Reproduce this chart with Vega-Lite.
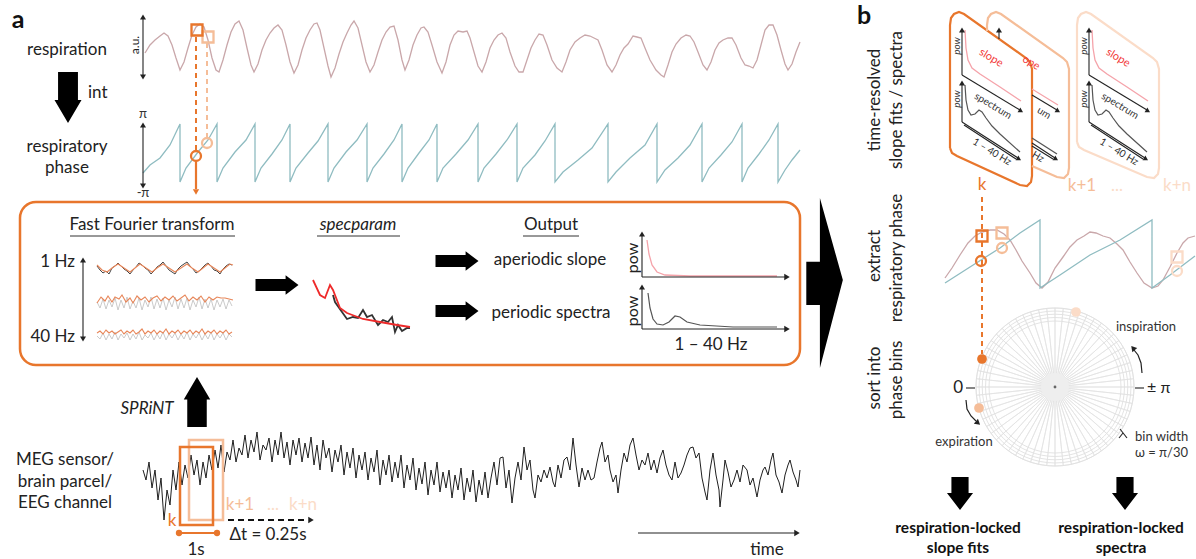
{
"$schema":"https://vega.github.io/schema/vega-lite/v6.json",
"width":1196,"height":559,"padding":0,"autosize":{"type":"none"},
"background":"white",
"config":{"view":{"stroke":null},"text":{"font":"Lato"}},
"encoding":{
 "x":{"field":"x","type":"quantitative","scale":{"domain":[0,1196],"nice":false,"zero":false},"axis":null},
 "y":{"field":"y","type":"quantitative","scale":{"domain":[0,559],"nice":false,"zero":false,"reverse":true},"axis":null}
},
"layer":[
{"data":{"values":[{"x":20,"y":202,"x2":800,"y2":365}]},
 "mark":{"type":"rect","cornerRadius":16,"filled":false,"stroke":"#E8762C","strokeWidth":2.5,"fill":null},
 "encoding":{"x2":{"field":"x2"},"y2":{"field":"y2"}}},
{"data":{"values":[
{"x":1055,"y":387,"v":1},{"x":1055,"y":387,"v":1},{"x":1055,"y":387,"v":1},{"x":1055,"y":387,"v":1},{"x":1055,"y":387,"v":1},{"x":1055,"y":387,"v":1},{"x":1055,"y":387,"v":1},{"x":1055,"y":387,"v":1},{"x":1055,"y":387,"v":1},{"x":1055,"y":387,"v":1},
{"x":1055,"y":387,"v":1},{"x":1055,"y":387,"v":1},{"x":1055,"y":387,"v":1},{"x":1055,"y":387,"v":1},{"x":1055,"y":387,"v":1},{"x":1055,"y":387,"v":1},{"x":1055,"y":387,"v":1},{"x":1055,"y":387,"v":1},{"x":1055,"y":387,"v":1},{"x":1055,"y":387,"v":1},
{"x":1055,"y":387,"v":1},{"x":1055,"y":387,"v":1},{"x":1055,"y":387,"v":1},{"x":1055,"y":387,"v":1},{"x":1055,"y":387,"v":1},{"x":1055,"y":387,"v":1},{"x":1055,"y":387,"v":1},{"x":1055,"y":387,"v":1},{"x":1055,"y":387,"v":1},{"x":1055,"y":387,"v":1},
{"x":1055,"y":387,"v":1},{"x":1055,"y":387,"v":1},{"x":1055,"y":387,"v":1},{"x":1055,"y":387,"v":1},{"x":1055,"y":387,"v":1},{"x":1055,"y":387,"v":1},{"x":1055,"y":387,"v":1},{"x":1055,"y":387,"v":1},{"x":1055,"y":387,"v":1},{"x":1055,"y":387,"v":1},
{"x":1055,"y":387,"v":1},{"x":1055,"y":387,"v":1},{"x":1055,"y":387,"v":1},{"x":1055,"y":387,"v":1},{"x":1055,"y":387,"v":1},{"x":1055,"y":387,"v":1},{"x":1055,"y":387,"v":1},{"x":1055,"y":387,"v":1},{"x":1055,"y":387,"v":1},{"x":1055,"y":387,"v":1},
{"x":1055,"y":387,"v":1},{"x":1055,"y":387,"v":1},{"x":1055,"y":387,"v":1},{"x":1055,"y":387,"v":1},{"x":1055,"y":387,"v":1},{"x":1055,"y":387,"v":1},{"x":1055,"y":387,"v":1},{"x":1055,"y":387,"v":1},{"x":1055,"y":387,"v":1},{"x":1055,"y":387,"v":1}]},
 "mark":{"type":"arc","outerRadius":79,"innerRadius":0,"fillOpacity":0,"stroke":"#e3e3e3","strokeWidth":0.8},
 "encoding":{"theta":{"field":"v","type":"quantitative","stack":true}}},
{"data":{"values":[{"x":1055,"y":387,"ring":1},{"x":1055,"y":387,"ring":2},{"x":1055,"y":387,"ring":3},{"x":1055,"y":387,"ring":4},{"x":1055,"y":387,"ring":5}]},
 "mark":{"type":"point","shape":"circle","filled":false,"stroke":"#e0e0e0","strokeWidth":0.9,"opacity":1},
 "encoding":{"size":{"field":"ring","type":"ordinal","scale":{"domain":[1,2,3,4,5],"range":[24964,17424,11236,6400,2916]},"legend":null}}},
{"data":{"values":[{"x":1055,"y":387}]},
 "mark":{"type":"point","shape":"circle","filled":true,"color":"#eeeeee","size":784,"opacity":1}},
{"data":{"values":[{"x":1055,"y":387}]},
 "mark":{"type":"point","shape":"circle","filled":true,"color":"#666666","size":8,"opacity":1}},
{"data":{"values":[
{"g":"c1","lvl":"k","x":950,"y":148},{"g":"c1","lvl":"k","x":950,"y":25},{"g":"c1","lvl":"k","x":951,"y":18},{"g":"c1","lvl":"k","x":954,"y":14},{"g":"c1","lvl":"k","x":959,"y":12},{"g":"c1","lvl":"k","x":964,"y":14},{"g":"c1","lvl":"k","x":1026,"y":58},{"g":"c1","lvl":"k","x":1030,"y":62},{"g":"c1","lvl":"k","x":1032,"y":69},{"g":"c1","lvl":"k","x":1032,"y":176},{"g":"c1","lvl":"k","x":1031,"y":182},{"g":"c1","lvl":"k","x":1027,"y":186},{"g":"c1","lvl":"k","x":1020,"y":185},{"g":"c1","lvl":"k","x":957,"y":156},{"g":"c1","lvl":"k","x":952,"y":153},{"g":"c1","lvl":"k","x":950,"y":148},
{"g":"c2","lvl":"k1","x":987,"y":31},{"g":"c2","lvl":"k1","x":987,"y":25},{"g":"c2","lvl":"k1","x":988,"y":18},{"g":"c2","lvl":"k1","x":991,"y":14},{"g":"c2","lvl":"k1","x":996,"y":12},{"g":"c2","lvl":"k1","x":1001,"y":14},{"g":"c2","lvl":"k1","x":1063,"y":58},{"g":"c2","lvl":"k1","x":1067,"y":62},{"g":"c2","lvl":"k1","x":1069,"y":69},{"g":"c2","lvl":"k1","x":1069,"y":168},{"g":"c2","lvl":"k1","x":1068,"y":174},{"g":"c2","lvl":"k1","x":1064,"y":178},{"g":"c2","lvl":"k1","x":1057,"y":177},{"g":"c2","lvl":"k1","x":1032,"y":166},
{"g":"c3","lvl":"kn","x":1077,"y":142},{"g":"c3","lvl":"kn","x":1077,"y":25},{"g":"c3","lvl":"kn","x":1078,"y":18},{"g":"c3","lvl":"kn","x":1081,"y":14},{"g":"c3","lvl":"kn","x":1086,"y":12},{"g":"c3","lvl":"kn","x":1091,"y":14},{"g":"c3","lvl":"kn","x":1153,"y":58},{"g":"c3","lvl":"kn","x":1157,"y":62},{"g":"c3","lvl":"kn","x":1159,"y":69},{"g":"c3","lvl":"kn","x":1159,"y":168},{"g":"c3","lvl":"kn","x":1158,"y":174},{"g":"c3","lvl":"kn","x":1154,"y":178},{"g":"c3","lvl":"kn","x":1147,"y":177},{"g":"c3","lvl":"kn","x":1084,"y":150},{"g":"c3","lvl":"kn","x":1079,"y":147},{"g":"c3","lvl":"kn","x":1077,"y":142}]},
 "mark":{"type":"line","strokeWidth":2.2},
 "encoding":{"detail":{"field":"g"},"order":{"value":null},"color":{"field":"lvl","type":"nominal","scale":{"domain":["k","k1","kn"],"range":["#E8762C","#F5BD98","#FBDCC8"]},"legend":null}}},
{"data":{"values":[
{"g":"s1","x":965,"y":30},{"g":"s1","x":966,"y":48},{"g":"s1","x":968,"y":60},{"g":"s1","x":972,"y":68},{"g":"s1","x":980,"y":74},{"g":"s1","x":1000,"y":87},{"g":"s1","x":1021,"y":101},
{"g":"s3","x":1092,"y":30},{"g":"s3","x":1093,"y":48},{"g":"s3","x":1095,"y":60},{"g":"s3","x":1099,"y":68},{"g":"s3","x":1107,"y":74},{"g":"s3","x":1127,"y":87},{"g":"s3","x":1148,"y":101},
{"g":"s2","x":1032,"y":89},{"g":"s2","x":1058,"y":105},
{"g":"ap","x":647,"y":240},{"g":"ap","x":649,"y":254},{"g":"ap","x":652,"y":265},{"g":"ap","x":657,"y":272},{"g":"ap","x":665,"y":275},{"g":"ap","x":690,"y":276},{"g":"ap","x":777,"y":276}]},
 "mark":{"type":"line","color":"#f5a3aa","strokeWidth":1.3},
 "encoding":{"detail":{"field":"g"},"order":{"value":null}}},
{"data":{"values":[
{"g":"p1","x":965,"y":85},{"g":"p1","x":966,"y":100},{"g":"p1","x":968,"y":110},{"g":"p1","x":971,"y":115},{"g":"p1","x":975,"y":114},{"g":"p1","x":979,"y":110},{"g":"p1","x":982,"y":112},{"g":"p1","x":986,"y":118},{"g":"p1","x":992,"y":126},{"g":"p1","x":1000,"y":134},{"g":"p1","x":1020,"y":152},
{"g":"p3","x":1092,"y":85},{"g":"p3","x":1093,"y":100},{"g":"p3","x":1095,"y":110},{"g":"p3","x":1098,"y":115},{"g":"p3","x":1102,"y":114},{"g":"p3","x":1106,"y":110},{"g":"p3","x":1109,"y":112},{"g":"p3","x":1113,"y":118},{"g":"p3","x":1119,"y":126},{"g":"p3","x":1127,"y":134},{"g":"p3","x":1147,"y":152},
{"g":"p2","x":1032,"y":138},{"g":"p2","x":1057,"y":154},
{"g":"pp","x":648,"y":293},{"g":"pp","x":650,"y":308},{"g":"pp","x":653,"y":319},{"g":"pp","x":657,"y":324},{"g":"pp","x":663,"y":325},{"g":"pp","x":669,"y":322},{"g":"pp","x":675,"y":316},{"g":"pp","x":680,"y":317},{"g":"pp","x":687,"y":322},{"g":"pp","x":700,"y":325},{"g":"pp","x":733,"y":327},{"g":"pp","x":777,"y":327}]},
 "mark":{"type":"line","color":"#555555","strokeWidth":1.2},
 "encoding":{"detail":{"field":"g"},"order":{"value":null}}},
{"data":{"values":[
{"g":"ra","x":145,"y":53},{"g":"ra","x":150,"y":45},{"g":"ra","x":155,"y":40},{"g":"ra","x":160,"y":36},{"g":"ra","x":164,"y":33},{"g":"ra","x":168,"y":36},{"g":"ra","x":172,"y":45},{"g":"ra","x":176,"y":58},{"g":"ra","x":180,"y":70},{"g":"ra","x":184,"y":62},{"g":"ra","x":188,"y":48},{"g":"ra","x":192,"y":35},{"g":"ra","x":196,"y":27},{"g":"ra","x":200,"y":24},{"g":"ra","x":204,"y":27},{"g":"ra","x":208,"y":40},{"g":"ra","x":212,"y":58},{"g":"ra","x":216,"y":70},{"g":"ra","x":219,"y":72},{"g":"ra","x":223,"y":60},{"g":"ra","x":227,"y":45},{"g":"ra","x":231,"y":32},{"g":"ra","x":235,"y":24},{"g":"ra","x":239,"y":21},{"g":"ra","x":243,"y":30},{"g":"ra","x":247,"y":48},{"g":"ra","x":251,"y":65},{"g":"ra","x":254,"y":72},{"g":"ra","x":258,"y":64},{"g":"ra","x":262,"y":50},{"g":"ra","x":266,"y":40},{"g":"ra","x":270,"y":33},{"g":"ra","x":274,"y":28},{"g":"ra","x":278,"y":25},{"g":"ra","x":282,"y":30},{"g":"ra","x":286,"y":45},{"g":"ra","x":290,"y":62},{"g":"ra","x":294,"y":73},{"g":"ra","x":298,"y":65},{"g":"ra","x":302,"y":50},{"g":"ra","x":306,"y":38},{"g":"ra","x":310,"y":30},{"g":"ra","x":314,"y":24},{"g":"ra","x":317,"y":23},{"g":"ra","x":320,"y":30},{"g":"ra","x":324,"y":48},{"g":"ra","x":328,"y":66},{"g":"ra","x":331,"y":77},{"g":"ra","x":335,"y":68},{"g":"ra","x":339,"y":54},{"g":"ra","x":343,"y":42},{"g":"ra","x":347,"y":33},{"g":"ra","x":351,"y":25},{"g":"ra","x":354,"y":21},{"g":"ra","x":358,"y":28},{"g":"ra","x":362,"y":45},{"g":"ra","x":366,"y":62},{"g":"ra","x":370,"y":72},{"g":"ra","x":374,"y":65},{"g":"ra","x":378,"y":52},{"g":"ra","x":382,"y":40},{"g":"ra","x":386,"y":32},{"g":"ra","x":390,"y":27},{"g":"ra","x":394,"y":26},{"g":"ra","x":398,"y":40},{"g":"ra","x":402,"y":60},{"g":"ra","x":405,"y":70},{"g":"ra","x":409,"y":60},{"g":"ra","x":413,"y":45},{"g":"ra","x":417,"y":35},{"g":"ra","x":421,"y":28},{"g":"ra","x":424,"y":27},{"g":"ra","x":428,"y":32},{"g":"ra","x":432,"y":45},{"g":"ra","x":437,"y":62},{"g":"ra","x":442,"y":73},{"g":"ra","x":446,"y":62},{"g":"ra","x":450,"y":45},{"g":"ra","x":454,"y":35},{"g":"ra","x":458,"y":31},{"g":"ra","x":463,"y":32},{"g":"ra","x":467,"y":31},{"g":"ra","x":470,"y":38},{"g":"ra","x":474,"y":52},{"g":"ra","x":478,"y":66},{"g":"ra","x":482,"y":72},{"g":"ra","x":486,"y":62},{"g":"ra","x":490,"y":48},{"g":"ra","x":494,"y":40},{"g":"ra","x":498,"y":35},{"g":"ra","x":502,"y":33},{"g":"ra","x":506,"y":38},{"g":"ra","x":510,"y":52},{"g":"ra","x":515,"y":66},{"g":"ra","x":519,"y":72},{"g":"ra","x":523,"y":72},{"g":"ra","x":527,"y":60},{"g":"ra","x":531,"y":48},{"g":"ra","x":535,"y":40},{"g":"ra","x":539,"y":34},{"g":"ra","x":543,"y":35},{"g":"ra","x":547,"y":45},{"g":"ra","x":552,"y":60},{"g":"ra","x":557,"y":68},{"g":"ra","x":562,"y":72},{"g":"ra","x":566,"y":62},{"g":"ra","x":570,"y":50},{"g":"ra","x":575,"y":42},{"g":"ra","x":580,"y":38},{"g":"ra","x":585,"y":35},{"g":"ra","x":590,"y":36},{"g":"ra","x":594,"y":38},{"g":"ra","x":598,"y":40},{"g":"ra","x":602,"y":50},{"g":"ra","x":607,"y":65},{"g":"ra","x":612,"y":72},{"g":"ra","x":616,"y":65},{"g":"ra","x":620,"y":55},{"g":"ra","x":624,"y":48},{"g":"ra","x":628,"y":44},{"g":"ra","x":633,"y":36},{"g":"ra","x":637,"y":37},{"g":"ra","x":641,"y":38},{"g":"ra","x":645,"y":48},{"g":"ra","x":650,"y":60},{"g":"ra","x":656,"y":70},{"g":"ra","x":661,"y":75},{"g":"ra","x":664,"y":77},{"g":"ra","x":668,"y":65},{"g":"ra","x":672,"y":52},{"g":"ra","x":676,"y":44},{"g":"ra","x":681,"y":38},{"g":"ra","x":686,"y":35},{"g":"ra","x":690,"y":36},{"g":"ra","x":694,"y":42},{"g":"ra","x":698,"y":52},{"g":"ra","x":703,"y":65},{"g":"ra","x":707,"y":70},{"g":"ra","x":711,"y":62},{"g":"ra","x":715,"y":50},{"g":"ra","x":719,"y":43},{"g":"ra","x":723,"y":40},{"g":"ra","x":728,"y":38},{"g":"ra","x":732,"y":38},{"g":"ra","x":736,"y":45},{"g":"ra","x":741,"y":58},{"g":"ra","x":745,"y":65},{"g":"ra","x":749,"y":66},{"g":"ra","x":753,"y":68},{"g":"ra","x":757,"y":60},{"g":"ra","x":761,"y":45},{"g":"ra","x":765,"y":30},{"g":"ra","x":769,"y":25},{"g":"ra","x":773,"y":25},{"g":"ra","x":777,"y":35},{"g":"ra","x":781,"y":50},{"g":"ra","x":785,"y":64},{"g":"ra","x":788,"y":70},{"g":"ra","x":792,"y":64},{"g":"ra","x":796,"y":52},{"g":"ra","x":800,"y":42},
{"g":"rb","x":945,"y":278},{"g":"rb","x":952,"y":268},{"g":"rb","x":960,"y":255},{"g":"rb","x":968,"y":243},{"g":"rb","x":975,"y":236},{"g":"rb","x":982,"y":232},{"g":"rb","x":990,"y":230},{"g":"rb","x":997,"y":230},{"g":"rb","x":1004,"y":234},{"g":"rb","x":1010,"y":240},{"g":"rb","x":1016,"y":250},{"g":"rb","x":1022,"y":261},{"g":"rb","x":1030,"y":273},{"g":"rb","x":1036,"y":283},{"g":"rb","x":1042,"y":288},{"g":"rb","x":1048,"y":282},{"g":"rb","x":1055,"y":268},{"g":"rb","x":1063,"y":257},{"g":"rb","x":1070,"y":247},{"g":"rb","x":1077,"y":240},{"g":"rb","x":1084,"y":236},{"g":"rb","x":1090,"y":232},{"g":"rb","x":1096,"y":233},{"g":"rb","x":1103,"y":236},{"g":"rb","x":1110,"y":238},{"g":"rb","x":1117,"y":244},{"g":"rb","x":1123,"y":250},{"g":"rb","x":1130,"y":262},{"g":"rb","x":1137,"y":273},{"g":"rb","x":1144,"y":283},{"g":"rb","x":1152,"y":288},{"g":"rb","x":1158,"y":286},{"g":"rb","x":1163,"y":280},{"g":"rb","x":1170,"y":267},{"g":"rb","x":1177,"y":253},{"g":"rb","x":1183,"y":243},{"g":"rb","x":1188,"y":238},{"g":"rb","x":1195,"y":236}]},
 "mark":{"type":"line","color":"#c9a7aa","strokeWidth":1.3},
 "encoding":{"detail":{"field":"g"},"order":{"value":null}}},
{"data":{"values":[
{"g":"pa","x":143,"y":173},{"g":"pa","x":150,"y":165},{"g":"pa","x":160,"y":158},{"g":"pa","x":170,"y":145},{"g":"pa","x":180,"y":124},{"g":"pa","x":180,"y":182},
{"g":"pa","x":186,"y":168},{"g":"pa","x":198,"y":152},{"g":"pa","x":208,"y":140},{"g":"pa","x":217,"y":124},{"g":"pa","x":217,"y":182},
{"g":"pa","x":223,"y":168},{"g":"pa","x":235,"y":152},{"g":"pa","x":246,"y":140},{"g":"pa","x":255,"y":124},{"g":"pa","x":255,"y":182},
{"g":"pa","x":261,"y":168},{"g":"pa","x":272,"y":154},{"g":"pa","x":282,"y":140},{"g":"pa","x":290,"y":124},{"g":"pa","x":290,"y":182},
{"g":"pa","x":296,"y":168},{"g":"pa","x":308,"y":153},{"g":"pa","x":318,"y":141},{"g":"pa","x":328,"y":124},{"g":"pa","x":328,"y":182},
{"g":"pa","x":334,"y":168},{"g":"pa","x":346,"y":152},{"g":"pa","x":357,"y":140},{"g":"pa","x":367,"y":124},{"g":"pa","x":367,"y":182},
{"g":"pa","x":373,"y":168},{"g":"pa","x":384,"y":154},{"g":"pa","x":394,"y":140},{"g":"pa","x":402,"y":124},{"g":"pa","x":402,"y":182},
{"g":"pa","x":408,"y":168},{"g":"pa","x":419,"y":153},{"g":"pa","x":429,"y":140},{"g":"pa","x":437,"y":124},{"g":"pa","x":437,"y":182},
{"g":"pa","x":443,"y":168},{"g":"pa","x":456,"y":154},{"g":"pa","x":468,"y":140},{"g":"pa","x":478,"y":124},{"g":"pa","x":478,"y":182},
{"g":"pa","x":484,"y":168},{"g":"pa","x":496,"y":154},{"g":"pa","x":507,"y":140},{"g":"pa","x":517,"y":124},{"g":"pa","x":517,"y":182},
{"g":"pa","x":523,"y":168},{"g":"pa","x":535,"y":155},{"g":"pa","x":545,"y":141},{"g":"pa","x":555,"y":124},{"g":"pa","x":555,"y":182},
{"g":"pa","x":563,"y":172},{"g":"pa","x":578,"y":160},{"g":"pa","x":592,"y":148},{"g":"pa","x":608,"y":124},{"g":"pa","x":608,"y":182},
{"g":"pa","x":616,"y":172},{"g":"pa","x":630,"y":158},{"g":"pa","x":645,"y":145},{"g":"pa","x":657,"y":124},{"g":"pa","x":657,"y":182},
{"g":"pa","x":665,"y":170},{"g":"pa","x":678,"y":158},{"g":"pa","x":690,"y":145},{"g":"pa","x":702,"y":124},{"g":"pa","x":702,"y":182},
{"g":"pa","x":709,"y":168},{"g":"pa","x":721,"y":155},{"g":"pa","x":732,"y":142},{"g":"pa","x":742,"y":124},{"g":"pa","x":742,"y":182},
{"g":"pa","x":748,"y":168},{"g":"pa","x":759,"y":154},{"g":"pa","x":769,"y":140},{"g":"pa","x":778,"y":124},{"g":"pa","x":778,"y":182},
{"g":"pa","x":785,"y":170},{"g":"pa","x":792,"y":160},{"g":"pa","x":800,"y":150},
{"g":"pb","x":945,"y":283},{"g":"pb","x":970,"y":267},{"g":"pb","x":1000,"y":248},{"g":"pb","x":1020,"y":233},{"g":"pb","x":1040,"y":220},{"g":"pb","x":1040,"y":288},{"g":"pb","x":1060,"y":275},{"g":"pb","x":1090,"y":255},{"g":"pb","x":1120,"y":240},{"g":"pb","x":1152,"y":220},{"g":"pb","x":1152,"y":288},{"g":"pb","x":1170,"y":275},{"g":"pb","x":1195,"y":256}]},
 "mark":{"type":"line","color":"#8fbcc1","strokeWidth":1.3},
 "encoding":{"detail":{"field":"g"},"order":{"value":null}}},
{"data":{"values":[
{"x":143,"y":470},{"x":146,"y":480},{"x":149,"y":462},{"x":152,"y":488},{"x":155,"y":470},{"x":158,"y":500},{"x":161,"y":478},{"x":164,"y":520},{"x":167,"y":490},{"x":170,"y":505},{"x":173,"y":470},{"x":176,"y":490},{"x":179,"y":462},{"x":182,"y":485},{"x":185,"y":465},{"x":188,"y":478},{"x":191,"y":455},{"x":194,"y":475},{"x":197,"y":460},{"x":200,"y":485},{"x":203,"y":462},{"x":206,"y":478},{"x":209,"y":455},{"x":212,"y":470},{"x":215,"y":450},{"x":218,"y":468},{"x":221,"y":445},{"x":224,"y":472},{"x":227,"y":452},{"x":230,"y":460},{"x":233,"y":440},{"x":236,"y":462},{"x":239,"y":448},{"x":242,"y":455},{"x":245,"y":435},{"x":248,"y":458},{"x":251,"y":440},{"x":254,"y":452},{"x":257,"y":432},{"x":260,"y":460},{"x":263,"y":445},{"x":266,"y":450},{"x":269,"y":438},{"x":272,"y":462},{"x":275,"y":440},{"x":278,"y":455},{"x":281,"y":432},{"x":284,"y":458},{"x":287,"y":442},{"x":290,"y":465},{"x":293,"y":440},{"x":296,"y":455},{"x":299,"y":438},{"x":302,"y":462},{"x":305,"y":443},{"x":308,"y":458},{"x":311,"y":437},{"x":314,"y":465},{"x":317,"y":445},{"x":320,"y":470},{"x":323,"y":440},{"x":326,"y":458},{"x":329,"y":448},{"x":332,"y":472},{"x":335,"y":450},{"x":338,"y":462},{"x":341,"y":445},{"x":344,"y":475},{"x":347,"y":452},{"x":350,"y":468},{"x":353,"y":448},{"x":356,"y":478},{"x":359,"y":455},{"x":362,"y":470},{"x":365,"y":452},{"x":368,"y":480},{"x":371,"y":458},{"x":374,"y":472},{"x":377,"y":450},{"x":380,"y":485},{"x":383,"y":460},{"x":386,"y":475},{"x":389,"y":455},{"x":392,"y":482},{"x":395,"y":462},{"x":398,"y":478},{"x":401,"y":455},{"x":404,"y":488},{"x":407,"y":465},{"x":410,"y":480},{"x":413,"y":458},{"x":416,"y":490},{"x":419,"y":468},{"x":422,"y":484},{"x":425,"y":462},{"x":428,"y":495},{"x":431,"y":470},{"x":434,"y":485},{"x":437,"y":462},{"x":440,"y":492},{"x":443,"y":472},{"x":446,"y":488},{"x":449,"y":470},{"x":452,"y":498},{"x":455,"y":475},{"x":458,"y":490},{"x":461,"y":468},{"x":464,"y":500},{"x":467,"y":478},{"x":470,"y":492},{"x":473,"y":470},{"x":476,"y":502},{"x":479,"y":480},{"x":482,"y":495},{"x":485,"y":472},{"x":488,"y":498},{"x":491,"y":478},
{"x":494,"y":462},{"x":497,"y":485},{"x":500,"y":458},{"x":503,"y":457},{"x":506,"y":488},{"x":509,"y":470},{"x":512,"y":503},{"x":515,"y":478},{"x":518,"y":462},{"x":521,"y":480},{"x":524,"y":447},{"x":527,"y":470},{"x":530,"y":460},{"x":533,"y":490},{"x":535,"y":498},{"x":538,"y":475},{"x":541,"y":482},{"x":544,"y":470},{"x":547,"y":478},{"x":550,"y":467},{"x":553,"y":482},{"x":555,"y":487},{"x":558,"y":465},{"x":561,"y":478},{"x":564,"y":460},{"x":567,"y":457},{"x":570,"y":470},{"x":573,"y":438},{"x":576,"y":465},{"x":579,"y":487},{"x":582,"y":468},{"x":585,"y":480},{"x":588,"y":470},{"x":591,"y":480},{"x":594,"y":478},{"x":597,"y":462},{"x":600,"y":448},{"x":602,"y":442},{"x":605,"y":462},{"x":608,"y":455},{"x":610,"y":470},{"x":613,"y":482},{"x":616,"y":475},{"x":618,"y":493},{"x":621,"y":470},{"x":624,"y":453},{"x":627,"y":462},{"x":630,"y":445},{"x":633,"y":438},{"x":636,"y":455},{"x":639,"y":470},{"x":642,"y":460},{"x":645,"y":465},{"x":648,"y":453},{"x":651,"y":470},{"x":654,"y":460},{"x":657,"y":473},{"x":660,"y":458},{"x":663,"y":450},{"x":666,"y":465},{"x":669,"y":475},{"x":672,"y":480},{"x":675,"y":462},{"x":678,"y":478},{"x":681,"y":473},{"x":684,"y":465},{"x":687,"y":455},{"x":690,"y":448},{"x":693,"y":447},{"x":696,"y":458},{"x":699,"y":453},{"x":702,"y":478},{"x":705,"y":492},{"x":707,"y":500},{"x":710,"y":470},{"x":713,"y":453},{"x":716,"y":475},{"x":719,"y":490},{"x":720,"y":507},{"x":723,"y":480},{"x":725,"y":460},{"x":728,"y":472},{"x":731,"y":487},{"x":734,"y":480},{"x":737,"y":470},{"x":740,"y":482},{"x":743,"y":465},{"x":747,"y":470},{"x":750,"y":485},{"x":753,"y":478},{"x":757,"y":497},{"x":760,"y":480},{"x":763,"y":470},{"x":765,"y":467},{"x":768,"y":475},{"x":771,"y":460},{"x":773,"y":453},{"x":776,"y":475},{"x":779,"y":482},{"x":782,"y":493},{"x":785,"y":475},{"x":788,"y":465},{"x":790,"y":460},{"x":793,"y":472},{"x":796,"y":480},{"x":798,"y":487},{"x":800,"y":470}]},
 "mark":{"type":"line","color":"#1f1f1f","strokeWidth":1},
 "encoding":{"order":{"value":null}}},
{"data":{"values":[
{"g":"f2g","x":97,"y":302},{"g":"f2g","x":100,"y":308},{"g":"f2g","x":103,"y":299},{"g":"f2g","x":106,"y":309},{"g":"f2g","x":109,"y":300},{"g":"f2g","x":112,"y":307},{"g":"f2g","x":115,"y":298},{"g":"f2g","x":118,"y":310},{"g":"f2g","x":121,"y":300},{"g":"f2g","x":124,"y":308},{"g":"f2g","x":127,"y":297},{"g":"f2g","x":130,"y":309},{"g":"f2g","x":133,"y":301},{"g":"f2g","x":136,"y":308},{"g":"f2g","x":139,"y":298},{"g":"f2g","x":142,"y":310},{"g":"f2g","x":145,"y":300},{"g":"f2g","x":148,"y":307},{"g":"f2g","x":151,"y":297},{"g":"f2g","x":154,"y":309},{"g":"f2g","x":157,"y":299},{"g":"f2g","x":160,"y":308},{"g":"f2g","x":163,"y":298},{"g":"f2g","x":166,"y":310},{"g":"f2g","x":169,"y":300},{"g":"f2g","x":172,"y":307},{"g":"f2g","x":175,"y":297},{"g":"f2g","x":178,"y":309},{"g":"f2g","x":181,"y":299},{"g":"f2g","x":184,"y":308},{"g":"f2g","x":187,"y":298},{"g":"f2g","x":190,"y":310},{"g":"f2g","x":193,"y":300},{"g":"f2g","x":196,"y":307},{"g":"f2g","x":199,"y":297},{"g":"f2g","x":202,"y":309},{"g":"f2g","x":205,"y":299},{"g":"f2g","x":208,"y":308},{"g":"f2g","x":211,"y":299},{"g":"f2g","x":214,"y":310},{"g":"f2g","x":217,"y":300},{"g":"f2g","x":220,"y":307},{"g":"f2g","x":223,"y":299},{"g":"f2g","x":226,"y":309},{"g":"f2g","x":229,"y":300},{"g":"f2g","x":232,"y":306},
{"g":"f3g","x":97,"y":336},{"g":"f3g","x":100,"y":339},{"g":"f3g","x":103,"y":333},{"g":"f3g","x":106,"y":340},{"g":"f3g","x":109,"y":334},{"g":"f3g","x":112,"y":339},{"g":"f3g","x":115,"y":332},{"g":"f3g","x":118,"y":340},{"g":"f3g","x":121,"y":334},{"g":"f3g","x":124,"y":338},{"g":"f3g","x":127,"y":333},{"g":"f3g","x":130,"y":340},{"g":"f3g","x":133,"y":334},{"g":"f3g","x":136,"y":339},{"g":"f3g","x":139,"y":332},{"g":"f3g","x":142,"y":340},{"g":"f3g","x":145,"y":335},{"g":"f3g","x":148,"y":338},{"g":"f3g","x":151,"y":333},{"g":"f3g","x":154,"y":340},{"g":"f3g","x":157,"y":334},{"g":"f3g","x":160,"y":339},{"g":"f3g","x":163,"y":332},{"g":"f3g","x":166,"y":340},{"g":"f3g","x":169,"y":334},{"g":"f3g","x":172,"y":338},{"g":"f3g","x":175,"y":333},{"g":"f3g","x":178,"y":340},{"g":"f3g","x":181,"y":334},{"g":"f3g","x":184,"y":339},{"g":"f3g","x":187,"y":332},{"g":"f3g","x":190,"y":340},{"g":"f3g","x":193,"y":334},{"g":"f3g","x":196,"y":338},{"g":"f3g","x":199,"y":333},{"g":"f3g","x":202,"y":340},{"g":"f3g","x":205,"y":334},{"g":"f3g","x":208,"y":339},{"g":"f3g","x":211,"y":332},{"g":"f3g","x":214,"y":340},{"g":"f3g","x":217,"y":334},{"g":"f3g","x":220,"y":338},{"g":"f3g","x":223,"y":333},{"g":"f3g","x":226,"y":340},{"g":"f3g","x":229,"y":334},{"g":"f3g","x":232,"y":337}]},
 "mark":{"type":"line","color":"#c4c4c4","strokeWidth":0.9},
 "encoding":{"detail":{"field":"g"},"order":{"value":null}}},
{"data":{"values":[
{"x":97,"y":266},{"x":100,"y":270},{"x":103,"y":273},{"x":106,"y":271},{"x":109,"y":274},{"x":112,"y":268},{"x":115,"y":266},{"x":118,"y":263},{"x":121,"y":266},{"x":124,"y":269},{"x":127,"y":271},{"x":130,"y":274},{"x":133,"y":270},{"x":136,"y":267},{"x":139,"y":263},{"x":142,"y":265},{"x":145,"y":268},{"x":148,"y":270},{"x":151,"y":274},{"x":154,"y":271},{"x":157,"y":267},{"x":160,"y":265},{"x":163,"y":262},{"x":166,"y":266},{"x":169,"y":270},{"x":172,"y":272},{"x":175,"y":274},{"x":178,"y":269},{"x":181,"y":266},{"x":184,"y":264},{"x":187,"y":262},{"x":190,"y":266},{"x":193,"y":269},{"x":196,"y":273},{"x":199,"y":271},{"x":202,"y":268},{"x":205,"y":265},{"x":208,"y":263},{"x":211,"y":266},{"x":214,"y":270},{"x":217,"y":271},{"x":220,"y":274},{"x":223,"y":269},{"x":226,"y":266},{"x":229,"y":264},{"x":232,"y":265}]},
 "mark":{"type":"line","color":"#444444","strokeWidth":1},
 "encoding":{"order":{"value":null}}},
{"data":{"values":[
{"g":"f1o","x":97,"y":265},{"g":"f1o","x":102,"y":270},{"g":"f1o","x":107,"y":272},{"g":"f1o","x":112,"y":268},{"g":"f1o","x":118,"y":264},{"g":"f1o","x":124,"y":268},{"g":"f1o","x":130,"y":272},{"g":"f1o","x":135,"y":268},{"g":"f1o","x":140,"y":264},{"g":"f1o","x":146,"y":268},{"g":"f1o","x":152,"y":272},{"g":"f1o","x":157,"y":268},{"g":"f1o","x":163,"y":264},{"g":"f1o","x":169,"y":268},{"g":"f1o","x":175,"y":272},{"g":"f1o","x":181,"y":268},{"g":"f1o","x":187,"y":264},{"g":"f1o","x":192,"y":268},{"g":"f1o","x":198,"y":272},{"g":"f1o","x":203,"y":268},{"g":"f1o","x":208,"y":264},{"g":"f1o","x":214,"y":268},{"g":"f1o","x":220,"y":272},{"g":"f1o","x":225,"y":268},{"g":"f1o","x":230,"y":264},{"g":"f1o","x":233,"y":265},
{"g":"f2o","x":97,"y":303},{"g":"f2o","x":101,"y":297},{"g":"f2o","x":105,"y":301},{"g":"f2o","x":108,"y":296},{"g":"f2o","x":112,"y":302},{"g":"f2o","x":115,"y":297},{"g":"f2o","x":119,"y":299},{"g":"f2o","x":122,"y":295},{"g":"f2o","x":126,"y":302},{"g":"f2o","x":130,"y":298},{"g":"f2o","x":133,"y":303},{"g":"f2o","x":137,"y":296},{"g":"f2o","x":141,"y":300},{"g":"f2o","x":145,"y":297},{"g":"f2o","x":149,"y":302},{"g":"f2o","x":153,"y":298},{"g":"f2o","x":157,"y":296},{"g":"f2o","x":161,"y":301},{"g":"f2o","x":165,"y":297},{"g":"f2o","x":169,"y":300},{"g":"f2o","x":173,"y":296},{"g":"f2o","x":177,"y":301},{"g":"f2o","x":181,"y":298},{"g":"f2o","x":185,"y":295},{"g":"f2o","x":189,"y":301},{"g":"f2o","x":193,"y":297},{"g":"f2o","x":197,"y":300},{"g":"f2o","x":201,"y":296},{"g":"f2o","x":205,"y":302},{"g":"f2o","x":209,"y":297},{"g":"f2o","x":213,"y":300},{"g":"f2o","x":217,"y":297},{"g":"f2o","x":221,"y":298},{"g":"f2o","x":225,"y":298},{"g":"f2o","x":229,"y":299},{"g":"f2o","x":233,"y":300},
{"g":"f3o","x":97,"y":333},{"g":"f3o","x":100,"y":331},{"g":"f3o","x":103,"y":334},{"g":"f3o","x":106,"y":330},{"g":"f3o","x":109,"y":333},{"g":"f3o","x":112,"y":331},{"g":"f3o","x":115,"y":334},{"g":"f3o","x":118,"y":332},{"g":"f3o","x":121,"y":330},{"g":"f3o","x":124,"y":334},{"g":"f3o","x":127,"y":331},{"g":"f3o","x":130,"y":333},{"g":"f3o","x":133,"y":330},{"g":"f3o","x":136,"y":334},{"g":"f3o","x":139,"y":332},{"g":"f3o","x":142,"y":329},{"g":"f3o","x":145,"y":334},{"g":"f3o","x":148,"y":331},{"g":"f3o","x":151,"y":333},{"g":"f3o","x":154,"y":330},{"g":"f3o","x":157,"y":334},{"g":"f3o","x":160,"y":331},{"g":"f3o","x":163,"y":333},{"g":"f3o","x":166,"y":329},{"g":"f3o","x":169,"y":334},{"g":"f3o","x":172,"y":331},{"g":"f3o","x":175,"y":333},{"g":"f3o","x":178,"y":330},{"g":"f3o","x":181,"y":334},{"g":"f3o","x":184,"y":331},{"g":"f3o","x":187,"y":333},{"g":"f3o","x":190,"y":330},{"g":"f3o","x":193,"y":334},{"g":"f3o","x":196,"y":331},{"g":"f3o","x":199,"y":333},{"g":"f3o","x":202,"y":329},{"g":"f3o","x":205,"y":334},{"g":"f3o","x":208,"y":331},{"g":"f3o","x":211,"y":333},{"g":"f3o","x":214,"y":330},{"g":"f3o","x":217,"y":334},{"g":"f3o","x":220,"y":331},{"g":"f3o","x":223,"y":333},{"g":"f3o","x":226,"y":330},{"g":"f3o","x":229,"y":334},{"g":"f3o","x":232,"y":332}]},
 "mark":{"type":"line","color":"#E8875A","strokeWidth":1.1},
 "encoding":{"detail":{"field":"g"},"order":{"value":null}}},
{"data":{"values":[
{"x":333,"y":295},{"x":335,"y":302},{"x":342,"y":312},{"x":347,"y":319},{"x":353,"y":317},{"x":358,"y":318},{"x":363,"y":310},{"x":367,"y":317},{"x":372,"y":315},{"x":378,"y":325},{"x":383,"y":320},{"x":388,"y":322},{"x":392,"y":317},{"x":395,"y":332},{"x":398,"y":325},{"x":402,"y":331},{"x":407,"y":328},{"x":410,"y":328}]},
 "mark":{"type":"line","color":"#333333","strokeWidth":1.8},
 "encoding":{"order":{"value":null}}},
{"data":{"values":[
{"x":313,"y":280},{"x":320,"y":295},{"x":325,"y":298},{"x":330,"y":285},{"x":333,"y":290},{"x":340,"y":308},{"x":347,"y":313},{"x":363,"y":319},{"x":380,"y":322},{"x":397,"y":325},{"x":410,"y":327}]},
 "mark":{"type":"line","color":"#ee2a2a","strokeWidth":1.8},
 "encoding":{"order":{"value":null}}},
{"data":{"values":[
{"g":"ai","x":1142,"y":373},{"g":"ai","x":1141,"y":363},{"g":"ai","x":1138,"y":355},{"g":"ai","x":1134,"y":350},
{"g":"ae","x":966,"y":400},{"g":"ae","x":967,"y":409},{"g":"ae","x":971,"y":416},{"g":"ae","x":976,"y":421}]},
 "mark":{"type":"line","color":"#222222","strokeWidth":1.2},
 "encoding":{"detail":{"field":"g"},"order":{"value":null}}},
{"data":{"values":[
{"x":143,"y":18,"x2":143,"y2":76},{"x":143,"y":126,"x2":143,"y2":185},{"x":83,"y":261,"x2":83,"y2":338},
{"x":642,"y":235,"x2":642,"y2":277},{"x":642,"y":277,"x2":785,"y2":277},{"x":642,"y":288,"x2":642,"y2":329},{"x":642,"y":329,"x2":785,"y2":329},{"x":638,"y":533,"x2":795,"y2":533},
{"x":962,"y":75,"x2":962,"y2":31},{"x":962,"y":75,"x2":1020,"y2":110},{"x":962,"y":122,"x2":962,"y2":84},{"x":962,"y":122,"x2":1018,"y2":158},{"x":964,"y":125,"x2":1016,"y2":159},
{"x":1089,"y":75,"x2":1089,"y2":31},{"x":1089,"y":75,"x2":1147,"y2":110},{"x":1089,"y":122,"x2":1089,"y2":84},{"x":1089,"y":122,"x2":1145,"y2":158},{"x":1091,"y":125,"x2":1143,"y2":159},
{"x":999,"y":39,"x2":999,"y2":31},{"x":1032,"y":95,"x2":1057,"y2":110},{"x":1032,"y":143,"x2":1055,"y2":158},{"x":1032,"y":146,"x2":1053,"y2":159},
{"x":966,"y":388,"x2":975,"y2":388},{"x":1135,"y":388,"x2":1144,"y2":388},
{"x":1120,"y":429,"x2":1127,"y2":438},{"x":1123,"y":433,"x2":1119,"y2":438}]},
 "mark":{"type":"rule","color":"#222222","strokeWidth":1.1},
 "encoding":{"x2":{"field":"x2"},"y2":{"field":"y2"}}},
{"data":{"values":[{"x":70,"y":236,"x2":235,"y2":236},{"x":317,"y":236,"x2":400,"y2":236},{"x":523,"y":236,"x2":579,"y2":236}]},
 "mark":{"type":"rule","color":"#333333","strokeWidth":1},
 "encoding":{"x2":{"field":"x2"},"y2":{"field":"y2"}}},
{"data":{"values":[{"x":228,"y":520,"x2":307,"y2":520}]},
 "mark":{"type":"rule","color":"#111111","strokeWidth":2,"strokeDash":[6,4]},
 "encoding":{"x2":{"field":"x2"},"y2":{"field":"y2"}}},
{"data":{"values":[{"x":207,"y":43,"x2":207,"y2":137,"lvl":"k1"},{"x":196,"y":37,"x2":196,"y2":150,"lvl":"k"},{"x":982,"y":197,"x2":982,"y2":354,"lvl":"k"}]},
 "mark":{"type":"rule","strokeWidth":2,"strokeDash":[5,4]},
 "encoding":{"x2":{"field":"x2"},"y2":{"field":"y2"},"color":{"field":"lvl","type":"nominal","scale":{"domain":["k","k1","kn"],"range":["#E8762C","#F5BD98","#FBDCC8"]},"legend":null}}},
{"data":{"values":[{"x":196,"y":162,"x2":196,"y2":189},{"x":179,"y":533,"x2":217,"y2":533}]},
 "mark":{"type":"rule","color":"#E8762C","strokeWidth":2.2},
 "encoding":{"x2":{"field":"x2"},"y2":{"field":"y2"}}},
{"data":{"values":[{"x":143,"y":17},{"x":143,"y":125},{"x":83,"y":260},{"x":642,"y":234},{"x":642,"y":287},{"x":962,"y":30},{"x":1089,"y":30},{"x":999,"y":30},{"x":962,"y":83},{"x":1089,"y":83}]},
 "mark":{"type":"point","shape":"triangle-up","filled":true,"color":"#222222","size":36,"opacity":1}},
{"data":{"values":[{"x":143,"y":77},{"x":143,"y":186},{"x":83,"y":339}]},
 "mark":{"type":"point","shape":"triangle-down","filled":true,"color":"#222222","size":36,"opacity":1}},
{"data":{"values":[{"x":787,"y":277},{"x":787,"y":329},{"x":797,"y":533},{"x":311,"y":520}]},
 "mark":{"type":"point","shape":"triangle-right","filled":true,"color":"#222222","size":40,"opacity":1}},
{"data":{"values":[{"x":1021,"y":111},{"x":1019,"y":159},{"x":1148,"y":111},{"x":1146,"y":159},{"x":1058,"y":111},{"x":1056,"y":159}]},
 "mark":{"type":"point","shape":"triangle-right","filled":true,"color":"#222222","size":30,"angle":31,"opacity":1}},
{"data":{"values":[{"x":1133,"y":348}]},
 "mark":{"type":"point","shape":"triangle-up","filled":true,"color":"#222222","size":40,"angle":320,"opacity":1}},
{"data":{"values":[{"x":978,"y":423}]},
 "mark":{"type":"point","shape":"triangle-down","filled":true,"color":"#222222","size":40,"angle":310,"opacity":1}},
{"data":{"values":[{"x":196,"y":192}]},
 "mark":{"type":"point","shape":"triangle-down","filled":true,"color":"#E8762C","size":40,"opacity":1}},
{"data":{"values":[{"x":189,"y":440,"x2":223,"y2":520,"lvl":"k1"},{"x":180,"y":447,"x2":213,"y2":525,"lvl":"k"}]},
 "mark":{"type":"rect","filled":false,"strokeWidth":2.5},
 "encoding":{"x2":{"field":"x2"},"y2":{"field":"y2"},"color":{"field":"lvl","type":"nominal","scale":{"domain":["k","k1","kn"],"range":["#E8762C","#F5BD98","#FBDCC8"]},"legend":null}}},
{"data":{"values":[{"x":208,"y":37,"lvl":"k1"},{"x":197,"y":30,"lvl":"k"},{"x":1177,"y":257,"lvl":"kn"},{"x":1002,"y":233,"lvl":"k1"},{"x":982,"y":236,"lvl":"k"}]},
 "mark":{"type":"point","shape":"square","filled":false,"strokeWidth":2.3,"size":121,"opacity":1},
 "encoding":{"color":{"field":"lvl","type":"nominal","scale":{"domain":["k","k1","kn"],"range":["#E8762C","#F5BD98","#FBDCC8"]},"legend":null}}},
{"data":{"values":[{"x":207,"y":143,"lvl":"k1"},{"x":196,"y":156,"lvl":"k"},{"x":1177,"y":271,"lvl":"kn"},{"x":1002,"y":248,"lvl":"k1"},{"x":981,"y":261,"lvl":"k"}]},
 "mark":{"type":"point","shape":"circle","filled":false,"strokeWidth":2.3,"size":100,"opacity":1},
 "encoding":{"color":{"field":"lvl","type":"nominal","scale":{"domain":["k","k1","kn"],"range":["#E8762C","#F5BD98","#FBDCC8"]},"legend":null}}},
{"data":{"values":[{"x":982,"y":359,"lvl":"k"},{"x":979,"y":408,"lvl":"k1"},{"x":1076,"y":312,"lvl":"kn"}]},
 "mark":{"type":"point","shape":"circle","filled":true,"size":95,"opacity":1},
 "encoding":{"color":{"field":"lvl","type":"nominal","scale":{"domain":["k","k1","kn"],"range":["#E8762C","#F5BD98","#FBDCC8"]},"legend":null}}},
{"data":{"values":[{"x":179,"y":533},{"x":217,"y":533}]},
 "mark":{"type":"point","shape":"circle","filled":true,"size":40,"color":"#E8762C","opacity":1}},
{"data":{"values":[{"x":68,"y":97.5}]},
 "mark":{"type":"point","shape":"M-0.39,-1 L0.39,-1 L0.39,0.1 L0.53,0.1 L0,1 L-0.53,0.1 L-0.39,0.1 Z","size":2601,"filled":true,"color":"#000000","opacity":1}},
{"data":{"values":[{"x":197,"y":402}]},
 "mark":{"type":"point","shape":"M-0.39,1 L0.39,1 L0.39,-0.1 L0.53,-0.1 L0,-1 L-0.53,-0.1 L-0.39,-0.1 Z","size":2500,"filled":true,"color":"#000000","opacity":1}},
{"data":{"values":[{"x":960,"y":493.5},{"x":1125,"y":493.5}]},
 "mark":{"type":"point","shape":"M-0.52,-1 L0.52,-1 L0.52,-0.03 L0.79,-0.03 L0,1 L-0.79,-0.03 L-0.52,-0.03 Z","size":1089,"filled":true,"color":"#000000","opacity":1}},
{"data":{"values":[{"x":277,"y":285},{"x":457,"y":261},{"x":457,"y":311}]},
 "mark":{"type":"point","shape":"M-1,-0.28 L0.4,-0.28 L0.4,-0.45 L1,0 L0.4,0.45 L0.4,0.28 L-1,0.28 Z","size":1849,"filled":true,"color":"#000000","opacity":1}},
{"data":{"values":[{"x":825,"y":283}]},
 "mark":{"type":"point","shape":"M-0.22,-0.25 L-0.06,-0.25 L-0.06,-1 L0.21,-0.035 L-0.06,1 L-0.06,0.26 L-0.22,0.26 Z","size":28900,"filled":true,"color":"#000000","opacity":1}},
{"data":{"values":[
{"x":67,"y":50,"t":"respiration"},{"x":67,"y":147,"t":"respiratory"},{"x":67,"y":168,"t":"phase"},
{"x":65,"y":460,"t":"MEG sensor/"},{"x":65,"y":482,"t":"brain parcel/"},{"x":65,"y":503,"t":"EEG channel"},
{"x":550,"y":260,"t":"aperiodic slope"},{"x":551,"y":313,"t":"periodic spectra"},{"x":711,"y":345,"t":"1 – 40 Hz"},
{"x":268,"y":535,"t":"Δt = 0.25s"},{"x":196,"y":550,"t":"1s"},{"x":767,"y":550,"t":"time"},
{"x":152,"y":225,"t":"Fast Fourier transform"},{"x":551,"y":225,"t":"Output"}]},
 "mark":{"type":"text","font":"Lato","fontSize":17,"color":"#222222","align":"center","baseline":"middle"},
 "encoding":{"text":{"field":"t"}}},
{"data":{"values":[{"x":88,"y":93,"t":"int"}]},
 "mark":{"type":"text","font":"Lato","fontSize":17,"color":"#222222","align":"left","baseline":"middle"},
 "encoding":{"text":{"field":"t"}}},
{"data":{"values":[{"x":75,"y":262,"t":"1 Hz"},{"x":75,"y":337,"t":"40 Hz"}]},
 "mark":{"type":"text","font":"Lato","fontSize":17,"color":"#222222","align":"right","baseline":"middle"},
 "encoding":{"text":{"field":"t"}}},
{"data":{"values":[{"x":358,"y":225,"t":"specparam"},{"x":147,"y":409,"t":"SPRiNT"}]},
 "mark":{"type":"text","font":"Lato","fontSize":17,"fontStyle":"italic","color":"#222222","align":"center","baseline":"middle"},
 "encoding":{"text":{"field":"t"}}},
{"data":{"values":[{"x":18,"y":20,"t":"a"},{"x":864,"y":16,"t":"b"}]},
 "mark":{"type":"text","font":"Lato","fontSize":25,"fontWeight":"bold","color":"#111111","align":"center","baseline":"middle"},
 "encoding":{"text":{"field":"t"}}},
{"data":{"values":[
{"x":875,"y":100,"t":"time-resolved"},{"x":897,"y":100,"t":"slope fits / spectra"},
{"x":875,"y":256,"t":"extract"},{"x":897,"y":258,"t":"respiratory phase"},
{"x":875,"y":378,"t":"sort into"},{"x":897,"y":380,"t":"phase bins"}]},
 "mark":{"type":"text","font":"Lato","fontSize":17,"color":"#222222","align":"center","baseline":"middle","angle":270},
 "encoding":{"text":{"field":"t"}}},
{"data":{"values":[{"x":633,"y":258,"t":"pow"},{"x":633,"y":311,"t":"pow"}]},
 "mark":{"type":"text","font":"Lato","fontSize":16,"color":"#222222","align":"center","baseline":"middle","angle":270},
 "encoding":{"text":{"field":"t"}}},
{"data":{"values":[{"x":135,"y":45,"t":"a.u."}]},
 "mark":{"type":"text","font":"Lato","fontSize":12,"color":"#222222","align":"center","baseline":"middle","angle":270},
 "encoding":{"text":{"field":"t"}}},
{"data":{"values":[{"x":143,"y":114,"t":"π"},{"x":143,"y":193,"t":"-π"},
{"x":1146,"y":327,"t":"inspiration"},{"x":964,"y":442,"t":"expiration"}]},
 "mark":{"type":"text","font":"Lato","fontSize":13,"color":"#333333","align":"center","baseline":"middle"},
 "encoding":{"text":{"field":"t"}}},
{"data":{"values":[{"x":1135,"y":437,"t":"bin width"},{"x":1135,"y":453,"t":"ω = π/30"}]},
 "mark":{"type":"text","font":"Lato","fontSize":13,"color":"#333333","align":"left","baseline":"middle"},
 "encoding":{"text":{"field":"t"}}},
{"data":{"values":[{"x":963,"y":388,"t":"0"}]},
 "mark":{"type":"text","font":"Lato","fontSize":17,"color":"#222222","align":"right","baseline":"middle"},
 "encoding":{"text":{"field":"t"}}},
{"data":{"values":[{"x":1147,"y":388,"t":"± π"}]},
 "mark":{"type":"text","font":"Lato","fontSize":16,"color":"#222222","align":"left","baseline":"middle"},
 "encoding":{"text":{"field":"t"}}},
{"data":{"values":[{"x":958,"y":528,"t":"respiration-locked"},{"x":958,"y":548,"t":"slope fits"},{"x":1121,"y":528,"t":"respiration-locked"},{"x":1121,"y":548,"t":"spectra"}]},
 "mark":{"type":"text","font":"Lato","fontSize":15.5,"fontWeight":"bold","color":"#111111","align":"center","baseline":"middle"},
 "encoding":{"text":{"field":"t"}}},
{"data":{"values":[{"x":172,"y":521,"t":"k","lvl":"k"},{"x":240,"y":505,"t":"k+1","lvl":"k1"},{"x":273,"y":505,"t":"...","lvl":"kn"},{"x":303,"y":505,"t":"k+n","lvl":"kn"},
{"x":982,"y":185,"t":"k","lvl":"k"},{"x":1082,"y":186,"t":"k+1","lvl":"k1"},{"x":1117,"y":186,"t":"...","lvl":"kn"},{"x":1177,"y":186,"t":"k+n","lvl":"kn"}]},
 "mark":{"type":"text","font":"Lato","fontSize":17,"align":"center","baseline":"middle"},
 "encoding":{"text":{"field":"t"},"color":{"field":"lvl","type":"nominal","scale":{"domain":["k","k1","kn"],"range":["#E8762C","#F5BD98","#FBDCC8"]},"legend":null}}},
{"data":{"values":[{"x":991,"y":58,"t":"slope"},{"x":1118,"y":58,"t":"slope"},{"x":1031,"y":63,"t":"ope"}]},
 "mark":{"type":"text","font":"Lato","fontSize":11,"color":"#f23a3a","align":"center","baseline":"middle","angle":31},
 "encoding":{"text":{"field":"t"}}},
{"data":{"values":[{"x":993,"y":106,"t":"spectrum"},{"x":1120,"y":106,"t":"spectrum"},{"x":1044,"y":113,"t":"um"},{"x":992,"y":152,"t":"1 – 40 Hz"},{"x":1119,"y":152,"t":"1 – 40 Hz"},{"x":1038,"y":157,"t":"Hz"}]},
 "mark":{"type":"text","font":"Lato","fontSize":10,"color":"#333333","align":"center","baseline":"middle","angle":31},
 "encoding":{"text":{"field":"t"}}},
{"data":{"values":[{"x":957,"y":46,"t":"pow"},{"x":957,"y":99,"t":"pow"},{"x":1084,"y":46,"t":"pow"},{"x":1084,"y":99,"t":"pow"}]},
 "mark":{"type":"text","font":"Lato","fontSize":10,"fontStyle":"italic","color":"#333333","align":"center","baseline":"middle","angle":270},
 "encoding":{"text":{"field":"t"}}}
]
}
